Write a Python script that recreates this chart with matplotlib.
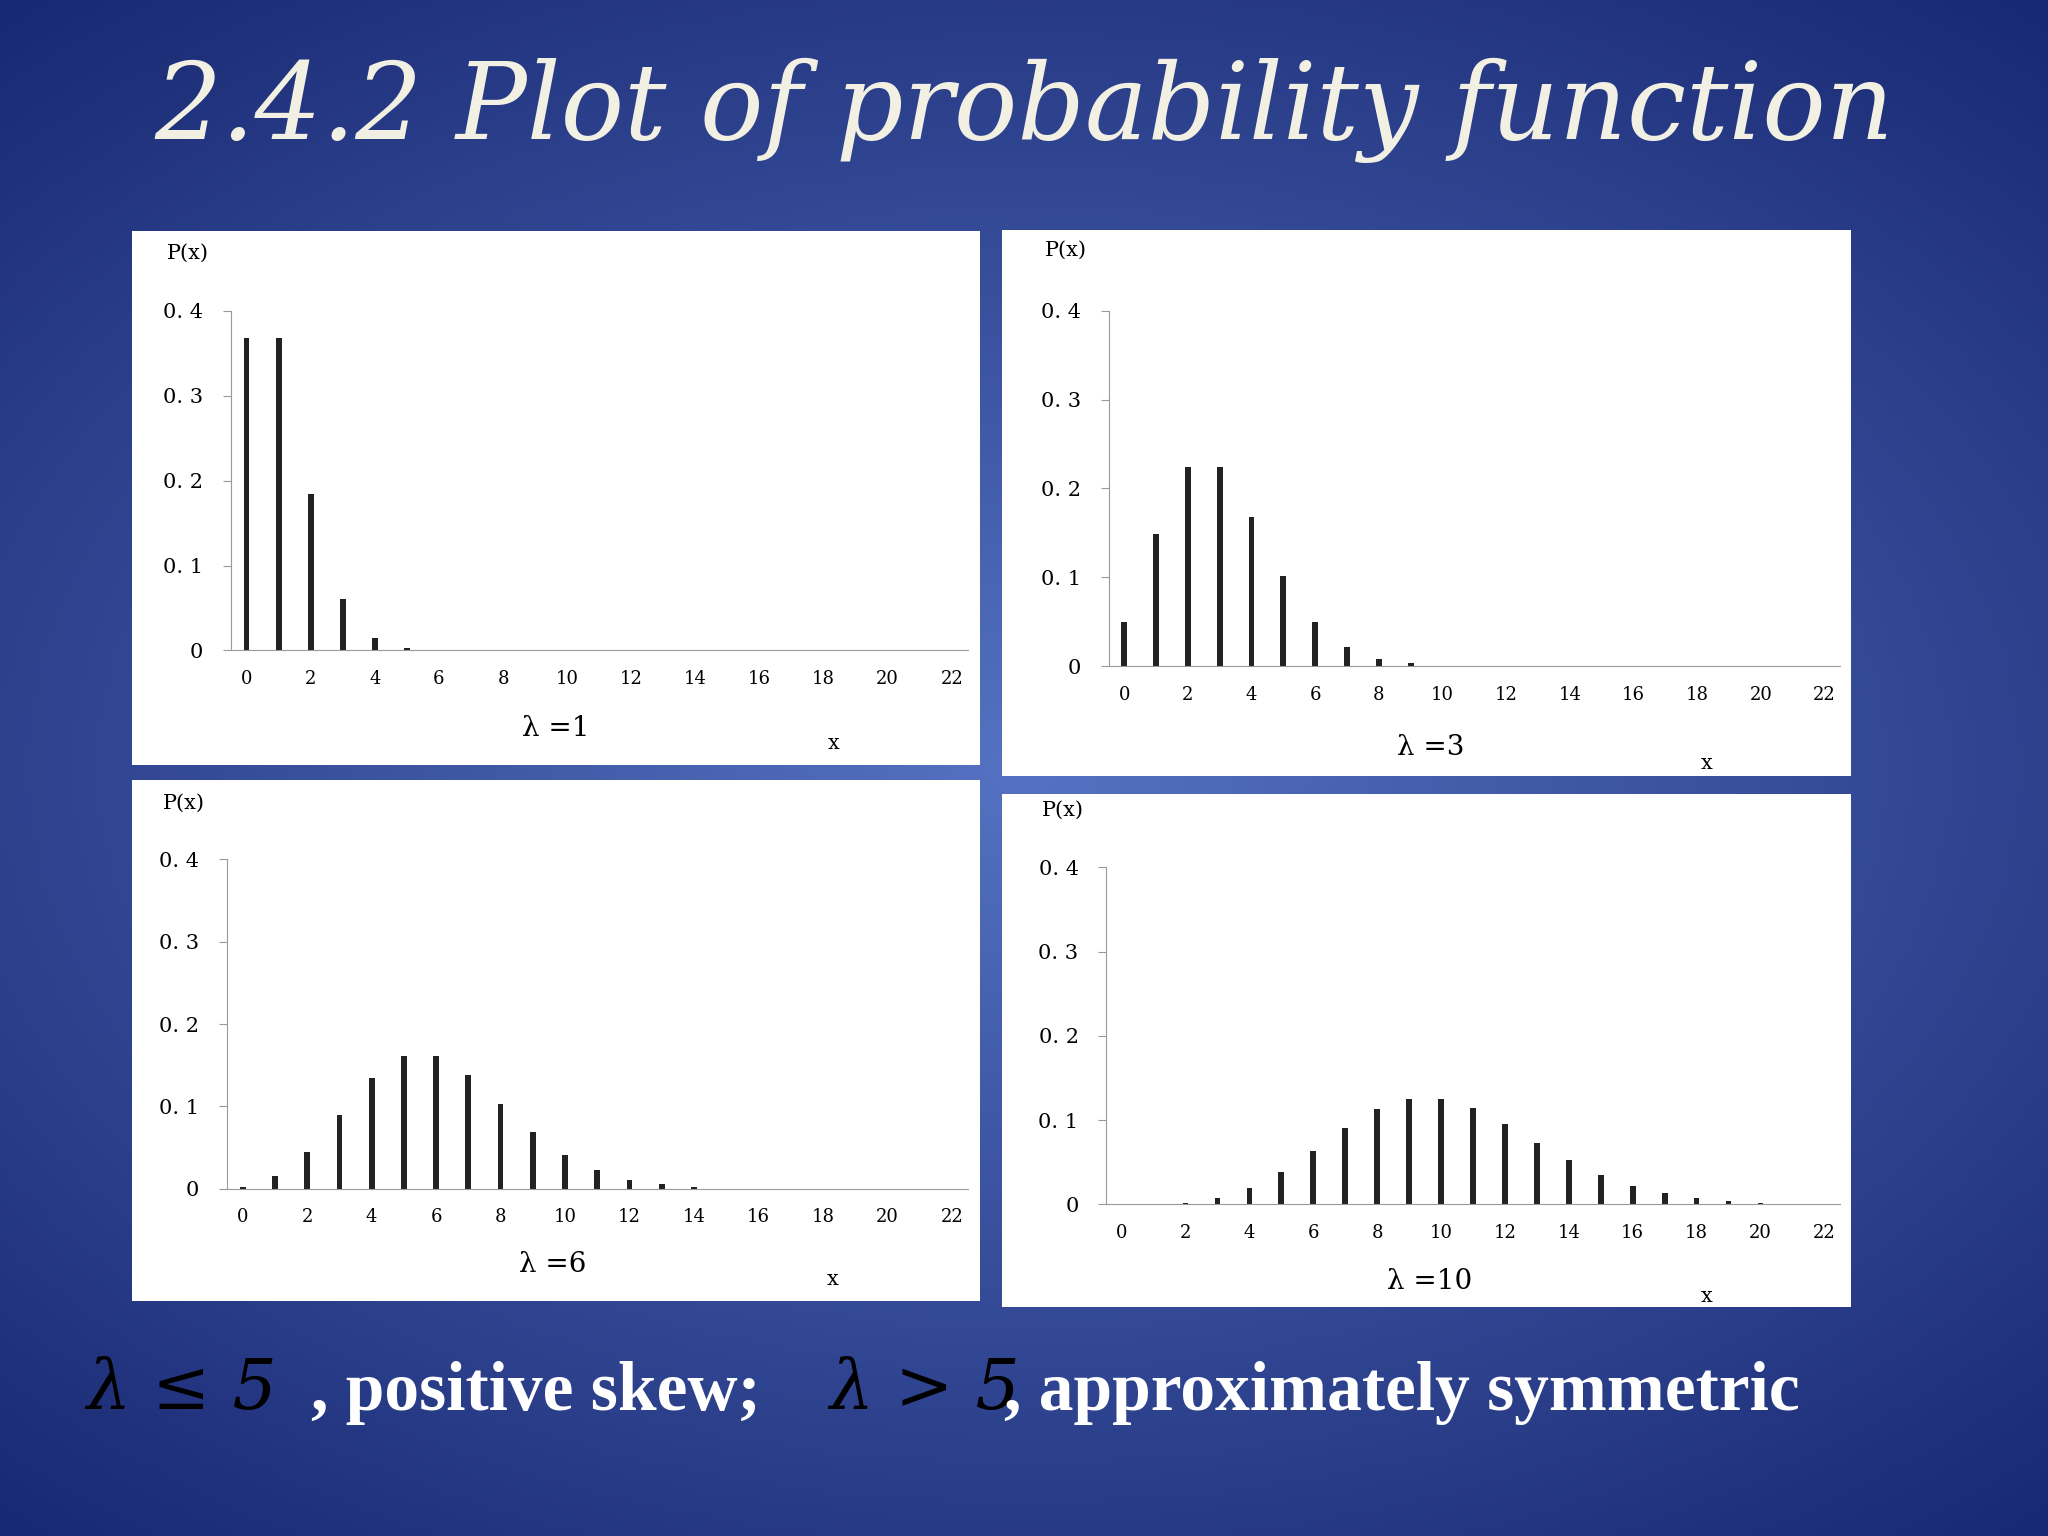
import numpy as np
import matplotlib.pyplot as plt
from matplotlib.patches import Rectangle

# probabilities
p_lam1 = [0.368, 0.368, 0.184, 0.061, 0.015, 0.003]
p_lam3 = [0.050, 0.149, 0.224, 0.224, 0.168, 0.101, 0.050, 0.022, 0.008, 0.003]
p_lam6 = [0.002, 0.015, 0.045, 0.089, 0.134, 0.161, 0.161, 0.138, 0.103, 0.069,
          0.041, 0.023, 0.011, 0.005, 0.002]
p_lam10 = [0.0, 0.0, 0.002, 0.008, 0.019, 0.038, 0.063, 0.090, 0.113, 0.125, 0.125,
           0.114, 0.095, 0.073, 0.052, 0.035, 0.022, 0.013, 0.007, 0.004, 0.002]
lam_labels = ["λ =1", "λ =3", "λ =6", "λ =10"]
y_ticks = [0, 0.1, 0.2, 0.3, 0.4]
y_ticklabels = ["0", "0. 1", "0. 2", "0. 3", "0. 4"]
x_ticks = list(range(0, 23, 2))

W, H = 1568, 1176
fig = plt.figure(figsize=(20.48, 15.36), dpi=100)

# radial gradient background
bg = fig.add_axes([0, 0, 1, 1])
bg.set_zorder(-5)
yy, xx = np.mgrid[0:1:300j, 0:1:400j]
r = np.sqrt(((xx - 0.5) / 0.75) ** 2 + ((yy - 0.5) / 0.65) ** 2)
r = np.clip(r, 0, 1)
c0 = np.array([0.33, 0.45, 0.76])
c1 = np.array([0.10, 0.16, 0.45])
img = c0[None, None, :] * (1 - r[..., None]) + c1[None, None, :] * r[..., None]
bg.imshow(img, aspect="auto", extent=[0, 1, 0, 1])
bg.axis("off")

def fx(px):
    return px / W

def fy(py):
    return 1 - py / H

# panel rect (l, t, r, b) and axes rect (l, t, r, b) in pixels
panels = [
    ((101, 177, 750, 586), (177, 238, 741, 498)),
    ((767, 176, 1417, 594), (849, 238, 1409, 510)),
    ((101, 597, 750, 996), (174, 658, 741, 910)),
    ((767, 608, 1417, 1001), (847, 664, 1409, 922)),
]
data = [p_lam1, p_lam3, p_lam6, p_lam10]
serif = "DejaVu Serif"

for (pr, ar), vals, lab in zip(panels, data, lam_labels):
    fig.add_artist(Rectangle((fx(pr[0]), fy(pr[3])), fx(pr[2] - pr[0]), (pr[3] - pr[1]) / H,
                             transform=fig.transFigure, facecolor="white", edgecolor="none",
                             zorder=-1))
    ax = fig.add_axes([fx(ar[0]), fy(ar[3]), fx(ar[2] - ar[0]), (ar[3] - ar[1]) / H])
    ax.set_zorder(5)
    ax.patch.set_alpha(0)
    ax.bar(range(len(vals)), vals, width=0.18, color="#222222")
    ax.set_xlim(-0.48, 22.5)
    ax.set_ylim(0, 0.4)
    for s in ["top", "right"]:
        ax.spines[s].set_visible(False)
    for s in ["left", "bottom"]:
        ax.spines[s].set_color("#999999")
    ax.set_yticks(y_ticks)
    ax.set_yticklabels(y_ticklabels, fontsize=15, family=serif)
    ax.tick_params(axis="y", length=6, color="#999999", pad=14)
    ax.set_xticks(x_ticks)
    ax.set_xticklabels([str(t) for t in x_ticks], fontsize=13, family=serif)
    ax.tick_params(axis="x", length=0, pad=14)
    ax.text(-0.03, 1.17, "P(x)", transform=ax.transAxes, fontsize=15, family=serif,
            ha="right", va="center")
    ax.text(0.44, -0.23, lab, transform=ax.transAxes, fontsize=20, family=serif,
            ha="center", va="center")
    ax.text(18.3, -0.11, "x", transform=ax.transData, fontsize=15, family=serif,
            ha="center", va="center")

fig.text(0.5, 0.928, "2.4.2 Plot of probability function", fontsize=76, style="italic",
         family=serif, color="#f2f0e2", ha="center", va="center")

fig.text(0.042, 0.095, "λ ≤ 5", fontsize=50, style="italic", family=serif,
         color="black", ha="left", va="center")
fig.text(0.152, 0.093, ", positive skew;", fontsize=50, weight="bold", family="Liberation Serif",
         color="white", ha="left", va="center")
fig.text(0.405, 0.095, "λ > 5", fontsize=50, style="italic", family=serif,
         color="black", ha="left", va="center")
fig.text(0.49, 0.093, ", approximately symmetric", fontsize=50, weight="bold",
         family="Liberation Serif", color="white", ha="left", va="center")

fig.savefig("out.png", dpi=100)
